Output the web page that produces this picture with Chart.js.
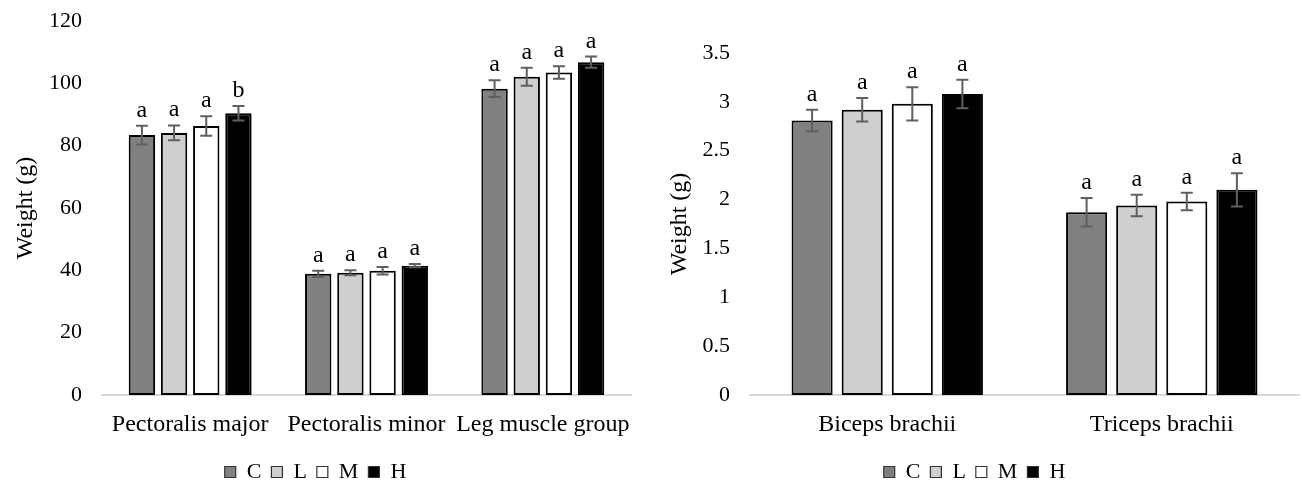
<!DOCTYPE html>
<html><head><meta charset="utf-8">
<script src="https://cdn.jsdelivr.net/npm/chart.js@4.4.1/dist/chart.umd.min.js"></script>
<style>
html,body{margin:0;padding:0;background:#fff;}
#wrap{position:relative;width:1302px;height:489px;overflow:hidden;}
#left{position:absolute;left:0;top:0;width:650px;height:489px;}
#right{position:absolute;left:650px;top:0;width:652px;height:489px;}
</style></head><body>
<div id="wrap"><div id="left"><canvas id="c1" width="650" height="489"></canvas></div><div id="right"><canvas id="c2" width="652" height="489"></canvas></div></div>
<script>
// ---- Data ----
const seriesNames = ['C', 'L', 'M', 'H'];

const categoriesLeft = ['Pectoralis major', 'Pectoralis minor', 'Leg muscle group'];
const leftC = [83.4, 38.9, 98.3];
const leftL = [84.1, 39.2, 102.1];
const leftM = [86.3, 39.9, 103.5];
const leftH = [90.4, 41.5, 106.8];
const leftErrC = [3.0, 1.0, 2.7];
const leftErrL = [2.4, 0.8, 2.9];
const leftErrM = [3.1, 1.2, 2.0];
const leftErrH = [2.3, 0.5, 1.8];
const leftLetC = ['a', 'a', 'a'];
const leftLetL = ['a', 'a', 'a'];
const leftLetM = ['a', 'a', 'a'];
const leftLetH = ['b', 'a', 'a'];
const yTicksLeft = ['0', '20', '40', '60', '80', '100', '120'];

const categoriesRight = ['Biceps brachii', 'Triceps brachii'];
const rightC = [2.81, 1.87];
const rightL = [2.92, 1.94];
const rightM = [2.98, 1.98];
const rightH = [3.08, 2.10];
const rightErrC = [0.11, 0.145];
const rightErrL = [0.12, 0.11];
const rightErrM = [0.17, 0.09];
const rightErrH = [0.145, 0.17];
const rightLetC = ['a', 'a'];
const rightLetL = ['a', 'a'];
const rightLetM = ['a', 'a'];
const rightLetH = ['a', 'a'];
const yTicksRight = ['0', '0.5', '1', '1.5', '2', '2.5', '3', '3.5'];

// ---- Styles ----
const fills = ['#808080', '#d0cece', '#ffffff', '#000000'];
const FONT = 'Liberation Serif';

const errPlugin = {
  id: 'errbars',
  afterDatasetsDraw(chart, args, opts) {
    const ctx = chart.ctx;
    const ys = chart.scales.y;
    chart.data.datasets.forEach((ds, i) => {
      const meta = chart.getDatasetMeta(i);
      meta.data.forEach((bar, j) => {
        const v = ds.data[j];
        const e = opts.errors[i][j];
        const yTop = ys.getPixelForValue(v + e);
        const yBot = ys.getPixelForValue(v - e);
        ctx.save();
        ctx.strokeStyle = '#5f5f5f';
        ctx.lineWidth = 2;
        ctx.beginPath();
        ctx.moveTo(bar.x, yTop); ctx.lineTo(bar.x, yBot);
        ctx.moveTo(bar.x - 6, yTop); ctx.lineTo(bar.x + 6, yTop);
        ctx.moveTo(bar.x - 6, yBot); ctx.lineTo(bar.x + 6, yBot);
        ctx.stroke();
        ctx.fillStyle = '#000';
        ctx.font = '24px "' + FONT + '"';
        ctx.textAlign = 'center';
        ctx.textBaseline = 'alphabetic';
        ctx.fillText(opts.letters[i][j], bar.x, yTop - 9);
        ctx.restore();
      });
    });
  }
};

function makeChart(id, cats, series, errs, lets, yMax, yStep, yTicks, pad, yWidth, titlePad) {
  return new Chart(document.getElementById(id), {
    type: 'bar',
    data: {
      labels: cats,
      datasets: series.map((d, i) => ({
        label: seriesNames[i],
        data: d,
        backgroundColor: fills[i],
        borderColor: '#000',
        borderWidth: 2,
        borderSkipped: false,
        categoryPercentage: 0.73,
        barPercentage: 0.82
      }))
    },
    options: {
      responsive: false,
      animation: false,
      layout: { padding: pad },
      scales: {
        x: {
          grid: { display: false, drawTicks: false },
          border: { display: true, color: '#d9d9d9', width: 2 },
          ticks: { font: { family: FONT, size: 24 }, color: '#000', padding: 15, maxRotation: 0, autoSkip: false },
          afterFit(s) { s.height = 56; s.paddingLeft = 0; s.paddingRight = 0; }
        },
        y: {
          min: 0, max: yMax,
          grid: { display: false, drawTicks: false },
          border: { display: false },
          ticks: {
            stepSize: yStep, font: { family: FONT, size: 22 }, color: '#000', padding: 20,
            callback: (v, i) => yTicks[i]
          },
          title: { display: true, text: 'Weight (g)', font: { family: FONT, size: 24 }, color: '#000', padding: { top: titlePad, bottom: 0 } },
          afterFit(s) { s.width = yWidth; s.paddingTop = 0; s.paddingBottom = 0; }
        }
      },
      plugins: {
        legend: {
          position: 'bottom',
          labels: {
            boxWidth: 11, boxHeight: 11, padding: 10, color: '#000',
            font: { family: FONT, size: 22 },
            generateLabels: (chart) => Chart.defaults.plugins.legend.labels.generateLabels(chart).map(l => Object.assign(l, { lineWidth: 1.2, strokeStyle: '#333' }))
          }
        },
        tooltip: { enabled: false },
        errbars: { errors: errs, letters: lets }
      }
    },
    plugins: [errPlugin]
  });
}

makeChart('c1', categoriesLeft, [leftC, leftL, leftM, leftH],
  [leftErrC, leftErrL, leftErrM, leftErrH], [leftLetC, leftLetL, leftLetM, leftLetH],
  120, 20, yTicksLeft, { top: 21, right: 19, left: 0, bottom: -4 }, 102, 11);

makeChart('c2', categoriesRight, [rightC, rightL, rightM, rightH],
  [rightErrC, rightErrL, rightErrM, rightErrH], [rightLetC, rightLetL, rightLetM, rightLetH],
  3.5, 0.5, yTicksRight, { top: 53, right: 3, left: 0, bottom: -4 }, 100, 15);
</script>
</body></html>
